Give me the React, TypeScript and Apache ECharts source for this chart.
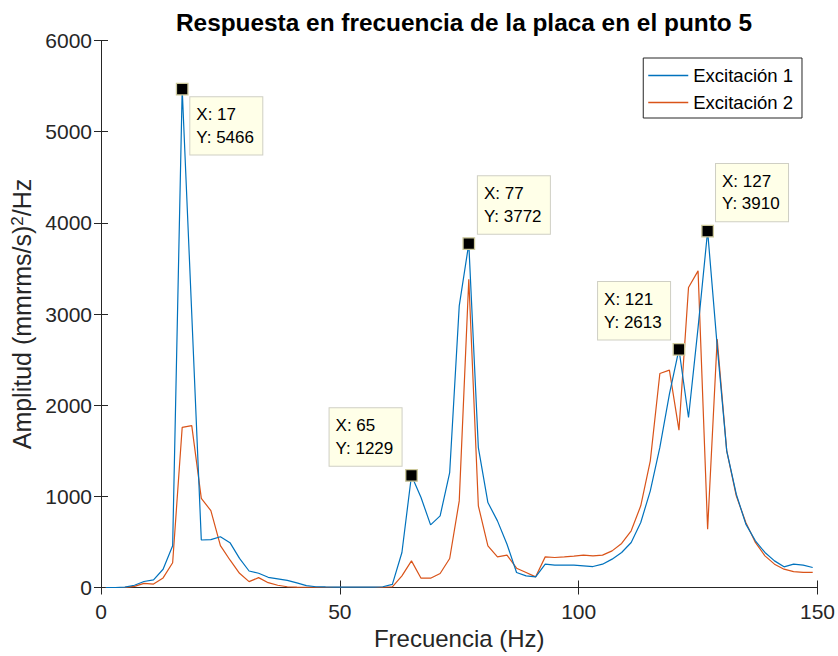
import React, { useEffect, useRef } from "react";
import * as echarts from "echarts";

const frequencies = [
  1, 3, 5, 7, 9, 11, 13, 15, 17, 19, 21, 23, 25, 27, 29, 31, 33, 35, 37, 39,
  41, 43, 45, 47, 49, 51, 53, 55, 57, 59, 61, 63, 65, 67, 69, 71, 73, 75, 77, 79,
  81, 83, 85, 87, 89, 91, 93, 95, 97, 99, 101, 103, 105, 107, 109, 111, 113, 115, 117, 119,
  121, 123, 125, 127, 129, 131, 133, 135, 137, 139, 141, 143, 145, 147, 149,
];

const excitacion1 = [
  0, 0, 5, 25, 66, 84, 200, 459, 5466, 3000, 521, 525, 557, 492, 320, 181, 156, 112, 95, 78,
  50, 20, 8, 6, 5, 5, 5, 5, 5, 8, 35, 384, 1229, 987, 687, 786, 1261, 3089, 3772, 1535,
  932, 731, 475, 165, 128, 117, 256, 245, 245, 245, 238, 230, 256, 311, 384, 494, 713, 1060, 1536, 2120,
  2613, 1865, 2850, 3910, 2650, 1499, 1024, 695, 512, 384, 292, 227, 256, 245, 219,
];

const excitacion2 = [
  0, 0, 2, 12, 46, 38, 105, 272, 1757, 1775, 978, 843, 459, 302, 156, 64, 108, 53, 25, 8,
  5, 3, 3, 3, 3, 3, 3, 3, 3, 3, 8, 128, 292, 102, 102, 154, 318, 950, 3382, 896,
  457, 336, 355, 212, 165, 117, 336, 329, 336, 344, 355, 347, 355, 402, 483, 622, 896, 1389, 2347, 2384,
  1726, 3290, 3473, 640, 2724, 1499, 1005, 713, 494, 347, 256, 201, 175, 165, 165,
];

const seriesNames = ["Excitación 1", "Excitación 2"];
const tipFrequencies = [17, 65, 77, 121, 127];

// label box offsets (pixels, relative to the marker's top-left corner)
const tipPlacement: Record<number, { dx: number; dy: number; vAlign: string }> = {
  17: { dx: 14.5, dy: 14.4, vAlign: "top" },
  65: { dx: -75.5, dy: -3.3, vAlign: "bottom" },
  77: { dx: 15.5, dy: -3.5, vAlign: "bottom" },
  121: { dx: -74.5, dy: -3.5, vAlign: "bottom" },
  127: { dx: 14.8, dy: -3.3, vAlign: "bottom" },
};

const FONT = "'Liberation Sans', Arial, Helvetica, sans-serif";
const AXIS_COLOR = "#262626";

export default function App() {
  const ref = useRef<HTMLDivElement>(null);

  useEffect(() => {
    if (!ref.current) return;
    const chart = echarts.init(ref.current, undefined, { renderer: "svg" });

    const data1 = frequencies.map((f, i) => [f, excitacion1[i]]);
    const data2 = frequencies.map((f, i) => [f, excitacion2[i]]);

    const tips = tipFrequencies.map((f) => {
      const v = excitacion1[frequencies.indexOf(f)];
      const p = tipPlacement[f];
      return {
        coord: [f, v],
        label: {
          show: true,
          position: [p.dx, p.dy],
          align: "left",
          verticalAlign: p.vAlign,
          formatter: `X: ${f}\nY: ${v}`,
        },
      };
    });

    const axisLine = { show: true, lineStyle: { color: AXIS_COLOR, width: 1 } };
    const axisTick = { show: true, inside: true, length: 7, lineStyle: { color: AXIS_COLOR, width: 1 } };

    chart.setOption({
      animation: false,
      backgroundColor: "#ffffff",
      textStyle: { fontFamily: FONT },
      title: {
        text: "Respuesta en frecuencia de la placa en el punto 5",
        left: 459,
        textAlign: "center",
        top: 5,
        textStyle: { fontFamily: FONT, fontSize: 24.4, fontWeight: "bold", color: "#000" },
      },
      grid: { left: 101, right: 19, top: 40.5, bottom: 68.5, containLabel: false },
      legend: {
        orient: "vertical",
        right: 36,
        top: 58,
        data: seriesNames,
        icon: "rect",
        itemWidth: 40,
        itemHeight: 1.3,
        itemGap: 8,
        padding: [8, 9, 6, 5],
        borderColor: AXIS_COLOR,
        borderWidth: 1,
        backgroundColor: "#ffffff",
        textStyle: { fontFamily: FONT, fontSize: 18.5, color: "#000" },
      },
      xAxis: [
        {
          type: "value",
          min: 0,
          max: 150,
          interval: 50,
          name: "Frecuencia (Hz)",
          nameLocation: "middle",
          nameGap: 39,
          nameTextStyle: { fontFamily: FONT, fontSize: 24, color: AXIS_COLOR },
          axisLine,
          axisTick,
          splitLine: { show: false },
          axisLabel: {
            fontFamily: FONT,
            fontSize: 21,
            color: AXIS_COLOR,
            margin: 13,
            formatter: (v: number) => String(v),
          },
        },
        {
          type: "value",
          position: "top",
          min: 0,
          max: 150,
          interval: 50,
          axisLine,
          axisTick,
          splitLine: { show: false },
          axisLabel: { show: false },
        },
      ],
      yAxis: [
        {
          type: "value",
          min: 0,
          max: 6000,
          interval: 1000,
          name: "Amplitud (mmrms/s){sup|2}/Hz",
          nameLocation: "middle",
          nameGap: 59,
          nameTextStyle: {
            fontFamily: FONT,
            fontSize: 25,
            color: AXIS_COLOR,
            rich: {
              sup: { fontFamily: FONT, fontSize: 17, color: AXIS_COLOR, verticalAlign: "top", padding: [0, 0, 8, 0] },
            },
          },
          axisLine,
          axisTick,
          splitLine: { show: false },
          axisLabel: {
            fontFamily: FONT,
            fontSize: 21,
            color: AXIS_COLOR,
            margin: 9,
            formatter: (v: number) => String(v),
          },
        },
        {
          type: "value",
          position: "right",
          min: 0,
          max: 6000,
          interval: 1000,
          axisLine,
          axisTick,
          splitLine: { show: false },
          axisLabel: { show: false },
        },
      ],
      series: [
        {
          name: seriesNames[0],
          type: "line",
          xAxisIndex: 0,
          yAxisIndex: 0,
          data: data1,
          symbol: "none",
          color: "#0072BD",
          lineStyle: { width: 1.2, color: "#0072BD" },
          z: 3,
          markPoint: {
            symbol: "rect",
            symbolSize: 11.5,
            itemStyle: { color: "#000000", borderColor: "#cdc99c", borderWidth: 1.3 },
            label: {
              fontFamily: FONT,
              fontSize: 17,
              lineHeight: 22.7,
              color: "#000000",
              backgroundColor: "#ffffe8",
              borderColor: "#cfcfc4",
              borderWidth: 1,
              width: 58,
              overflow: "none",
              padding: [6, 8, 6, 6],
            },
            data: tips,
            z: 10,
          },
        },
        {
          name: seriesNames[1],
          type: "line",
          xAxisIndex: 0,
          yAxisIndex: 0,
          data: data2,
          symbol: "none",
          color: "#D95319",
          lineStyle: { width: 1.2, color: "#D95319" },
          z: 2,
        },
      ],
    });

    return () => chart.dispose();
  }, []);

  return (
    <div
      ref={ref}
      style={{ position: "fixed", left: 0, top: 0, width: 838, height: 656, background: "#fff" }}
    />
  );
}
